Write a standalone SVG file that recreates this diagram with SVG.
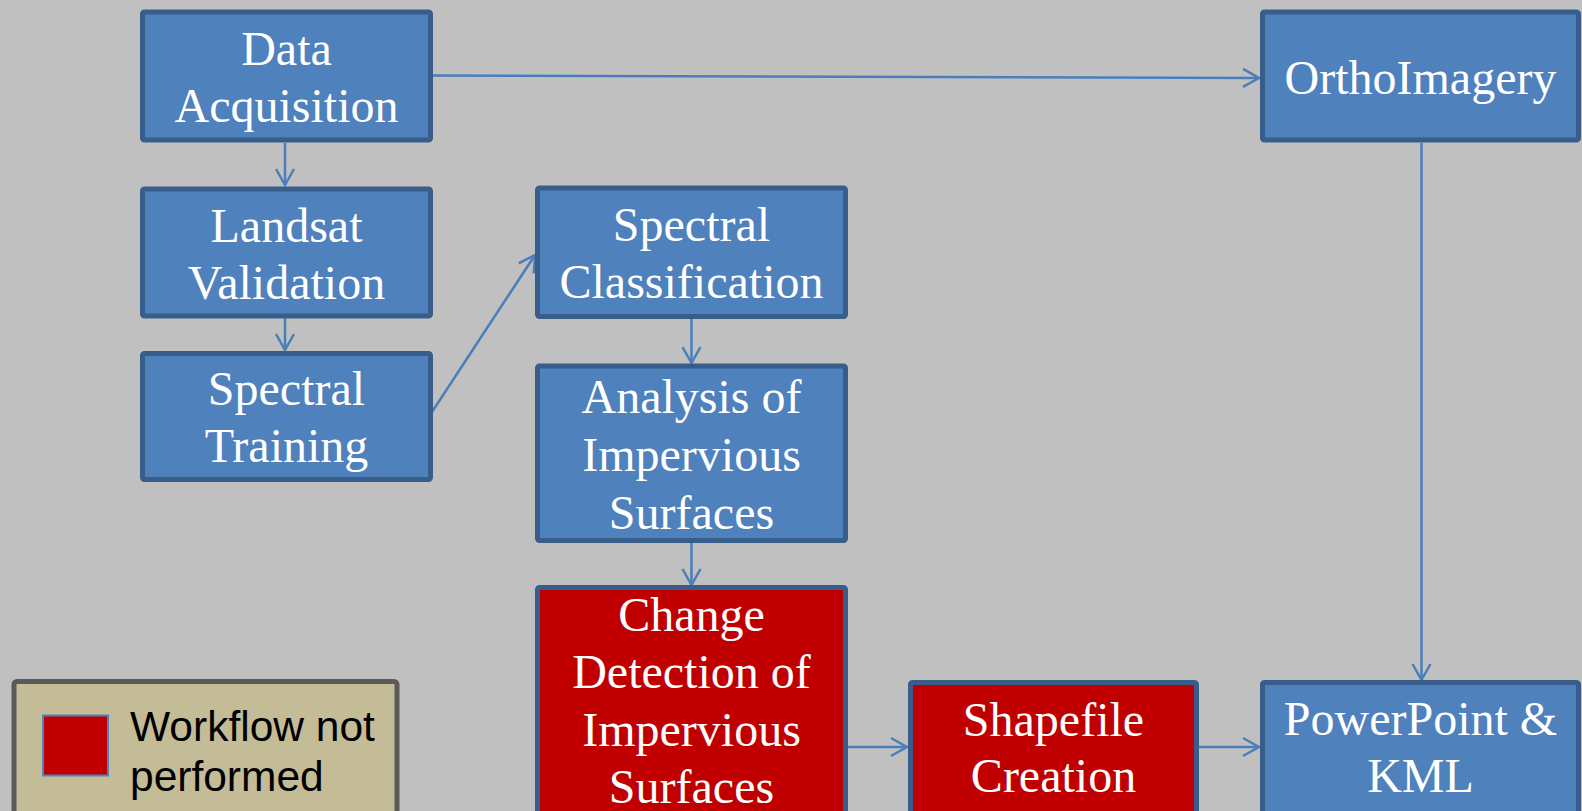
<svg xmlns="http://www.w3.org/2000/svg" width="1582" height="811" viewBox="0 0 1582 811">
<style>
.box{fill:#4f81bd;stroke:#385d8a;stroke-width:5}
.red{fill:#c00000;stroke:#385d8a;stroke-width:5}
.t{font-family:"Liberation Serif","Times New Roman",serif;font-size:48px;fill:#ffffff;text-anchor:middle}
.c{fill:none;stroke:#4a7ebb;stroke-width:2.5}
.lg{font-family:"Liberation Sans",Arial,sans-serif;font-size:42.5px;fill:#000000}
</style>
<defs>
<marker id="arr" markerUnits="userSpaceOnUse" markerWidth="24" markerHeight="24" viewBox="-20 -12 24 24" refX="0" refY="0" orient="auto">
<path d="M-16,-9 L0,0 L-16,9" fill="none" stroke="#4a7ebb" stroke-width="2.5"/>
</marker>
</defs>
<rect x="0" y="0" width="1582" height="811" fill="#c0c0c0"/>
<g id="connectors">
<line class="c" x1="432" y1="75.5" x2="1259" y2="78" marker-end="url(#arr)"/>
<line class="c" x1="285" y1="143" x2="285" y2="185" marker-end="url(#arr)"/>
<line class="c" x1="285" y1="318" x2="285" y2="350" marker-end="url(#arr)"/>
<line class="c" x1="430" y1="415" x2="535" y2="255" marker-end="url(#arr)"/>
<line class="c" x1="691.5" y1="319" x2="691.5" y2="363" marker-end="url(#arr)"/>
<line class="c" x1="691.5" y1="543" x2="691.5" y2="585" marker-end="url(#arr)"/>
<line class="c" x1="848" y1="747" x2="907" y2="747" marker-end="url(#arr)"/>
<line class="c" x1="1199" y1="747" x2="1259" y2="747" marker-end="url(#arr)"/>
<line class="c" x1="1421.5" y1="143" x2="1421.5" y2="680" marker-end="url(#arr)"/>
</g>
<g id="data-acquisition">
<rect class="box" x="142.5" y="12" width="288" height="128" rx="2"/>
<text class="t" x="286.5" y="65">Data</text>
<text class="t" x="286.5" y="122">Acquisition</text>
</g>
<g id="orthoimagery">
<rect class="box" x="1262.5" y="12" width="316" height="128" rx="2"/>
<text class="t" x="1420.5" y="94">OrthoImagery</text>
</g>
<g id="landsat-validation">
<rect class="box" x="142.5" y="189" width="288" height="127" rx="2"/>
<text class="t" x="286.5" y="241.5">Landsat</text>
<text class="t" x="286.5" y="298.5">Validation</text>
</g>
<g id="spectral-training">
<rect class="box" x="142.5" y="353.5" width="288" height="126" rx="2"/>
<text class="t" x="286.5" y="405">Spectral</text>
<text class="t" x="286.5" y="462">Training</text>
</g>
<g id="spectral-classification">
<rect class="box" x="537.5" y="188" width="308" height="128.5" rx="2"/>
<text class="t" x="691.5" y="241">Spectral</text>
<text class="t" x="691.5" y="298">Classification</text>
</g>
<g id="analysis-impervious">
<rect class="box" x="537.5" y="366" width="308" height="174.5" rx="2"/>
<text class="t" x="691.5" y="413">Analysis of</text>
<text class="t" x="691.5" y="471">Impervious</text>
<text class="t" x="691.5" y="528.5">Surfaces</text>
</g>
<g id="change-detection">
<rect class="red" x="537.5" y="587.5" width="308" height="240" rx="2"/>
<text class="t" x="691.5" y="631">Change</text>
<text class="t" x="691.5" y="688">Detection of</text>
<text class="t" x="691.5" y="746">Impervious</text>
<text class="t" x="691.5" y="803">Surfaces</text>
</g>
<g id="shapefile-creation">
<rect class="red" x="910.5" y="682.5" width="286" height="140" rx="2"/>
<text class="t" x="1053.5" y="735.5">Shapefile</text>
<text class="t" x="1053.5" y="792">Creation</text>
</g>
<g id="powerpoint-kml">
<rect class="box" x="1262.5" y="682.5" width="316" height="140" rx="2"/>
<text class="t" x="1420.5" y="735">PowerPoint &amp;</text>
<text class="t" x="1420.5" y="791.5">KML</text>
</g>
<g id="legend">
<rect x="14" y="681.5" width="383" height="140" rx="3" fill="#c4bc96" stroke="#5a5a5a" stroke-width="5"/>
<rect x="43" y="715.5" width="65" height="60" fill="#c00000" stroke="#4f81bd" stroke-width="2"/>
<text class="lg" x="130" y="741">Workflow not</text>
<text class="lg" x="130" y="791">performed</text>
</g>
</svg>
